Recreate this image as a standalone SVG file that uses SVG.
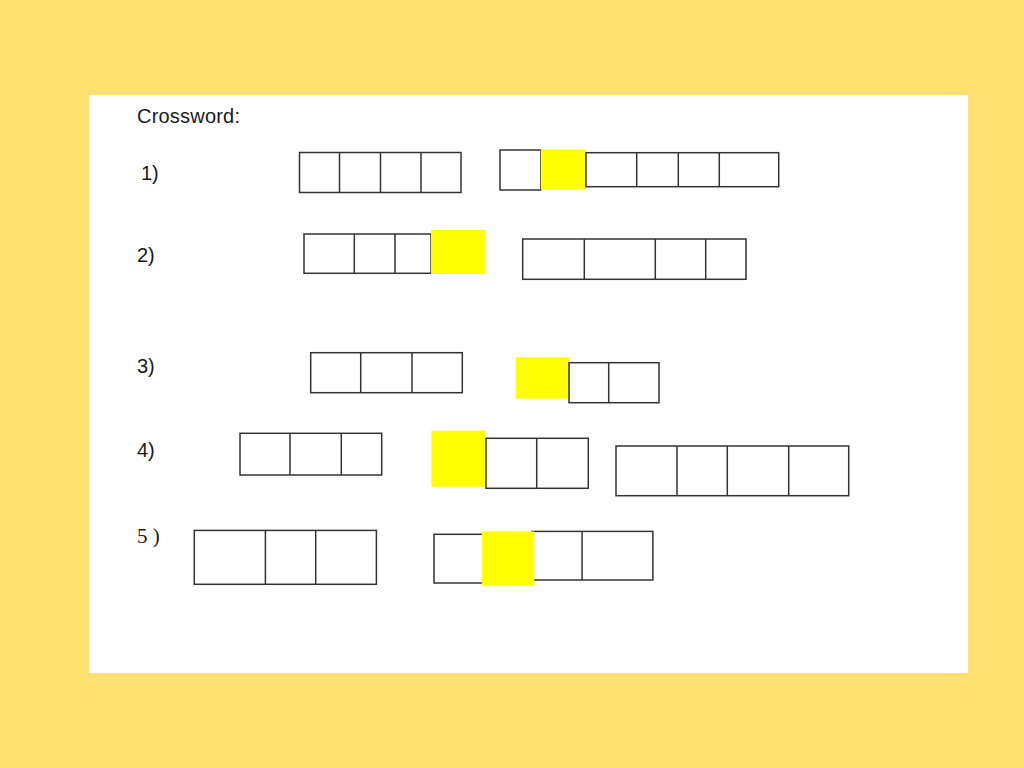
<svg xmlns="http://www.w3.org/2000/svg" width="1024" height="768" viewBox="0 0 1024 768">
<style>
.cell{fill:#fff;stroke:#333;stroke-width:1.5}
.hl{fill:#ffff00;stroke:none}
.ln{stroke:#333;stroke-width:1.5}
.lbl{font-family:"Liberation Sans",Arial,sans-serif;font-size:20px;fill:#1a1a1a}
.ser{font-family:"Liberation Serif","Times New Roman",serif;font-size:21px;fill:#1a1a1a}
</style>
<rect x="0" y="0" width="1024" height="768" fill="#ffe070"/>
<rect x="89" y="95" width="879" height="578" fill="#fff"/>
<text class="lbl" x="137" y="123" textLength="103">Crossword:</text>
<text class="lbl" x="141" y="180">1)</text>
<text class="lbl" x="137" y="262">2)</text>
<text class="lbl" x="137" y="373">3)</text>
<text class="lbl" x="137" y="457">4)</text>
<text class="ser" x="137" y="543">5 )</text>

<g id="row1-word1">
<rect class="cell" x="299.5" y="152.5" width="161.5" height="40"/>
<line class="ln" x1="339.5" y1="152.5" x2="339.5" y2="192.5"/>
<line class="ln" x1="380.5" y1="152.5" x2="380.5" y2="192.5"/>
<line class="ln" x1="421" y1="152.5" x2="421" y2="192.5"/>
</g>
<g id="row1-word2">
<rect class="cell" x="500" y="150" width="40.7" height="40"/>
<rect class="hl" x="540.7" y="149.5" width="45.3" height="40"/>
<rect class="cell" x="586" y="152.7" width="192.7" height="34"/>
<line class="ln" x1="636.7" y1="152.7" x2="636.7" y2="186.7"/>
<line class="ln" x1="678.3" y1="152.7" x2="678.3" y2="186.7"/>
<line class="ln" x1="719.3" y1="152.7" x2="719.3" y2="186.7"/>
</g>
<g id="row2-word1">
<rect class="cell" x="304" y="234" width="127" height="39.3"/>
<line class="ln" x1="354.3" y1="234" x2="354.3" y2="273.3"/>
<line class="ln" x1="395" y1="234" x2="395" y2="273.3"/>
<rect class="hl" x="431" y="230" width="54" height="44"/>
</g>
<g id="row2-word2">
<rect class="cell" x="522.7" y="239" width="223.3" height="40.3"/>
<line class="ln" x1="584.3" y1="239" x2="584.3" y2="279.3"/>
<line class="ln" x1="655.3" y1="239" x2="655.3" y2="279.3"/>
<line class="ln" x1="705.7" y1="239" x2="705.7" y2="279.3"/>
</g>
<g id="row3-word1">
<rect class="cell" x="310.7" y="352.7" width="151.6" height="40"/>
<line class="ln" x1="360.7" y1="352.7" x2="360.7" y2="392.7"/>
<line class="ln" x1="412" y1="352.7" x2="412" y2="392.7"/>
</g>
<g id="row3-word2">
<rect class="hl" x="515.7" y="357.3" width="53.3" height="41.4"/>
<rect class="cell" x="569" y="362.7" width="90" height="40"/>
<line class="ln" x1="608.7" y1="362.7" x2="608.7" y2="402.7"/>
</g>
<g id="row4-word1">
<rect class="cell" x="240" y="433.3" width="141.7" height="41.7"/>
<line class="ln" x1="290" y1="433.3" x2="290" y2="475"/>
<line class="ln" x1="341.3" y1="433.3" x2="341.3" y2="475"/>
</g>
<g id="row4-word2">
<rect class="hl" x="431.3" y="430.7" width="53.7" height="56"/>
<rect class="cell" x="486" y="438.3" width="102.3" height="50"/>
<line class="ln" x1="536.7" y1="438.3" x2="536.7" y2="488.3"/>
</g>
<g id="row4-word3">
<rect class="cell" x="616" y="446" width="232.7" height="49.7"/>
<line class="ln" x1="677" y1="446" x2="677" y2="495.7"/>
<line class="ln" x1="727.3" y1="446" x2="727.3" y2="495.7"/>
<line class="ln" x1="788.7" y1="446" x2="788.7" y2="495.7"/>
</g>
<g id="row5-word1">
<rect class="cell" x="194.3" y="530.4" width="182.1" height="53.9"/>
<line class="ln" x1="265.4" y1="530.4" x2="265.4" y2="584.3"/>
<line class="ln" x1="315.7" y1="530.4" x2="315.7" y2="584.3"/>
</g>
<g id="row5-word2">
<rect class="cell" x="434" y="534.3" width="60" height="48.7"/>
<rect class="cell" x="531.8" y="531.4" width="121.1" height="48.6"/>
<line class="ln" x1="582.1" y1="531.4" x2="582.1" y2="580"/>
<rect class="hl" x="481.8" y="531.4" width="52.5" height="54.3"/>
</g>
</svg>
